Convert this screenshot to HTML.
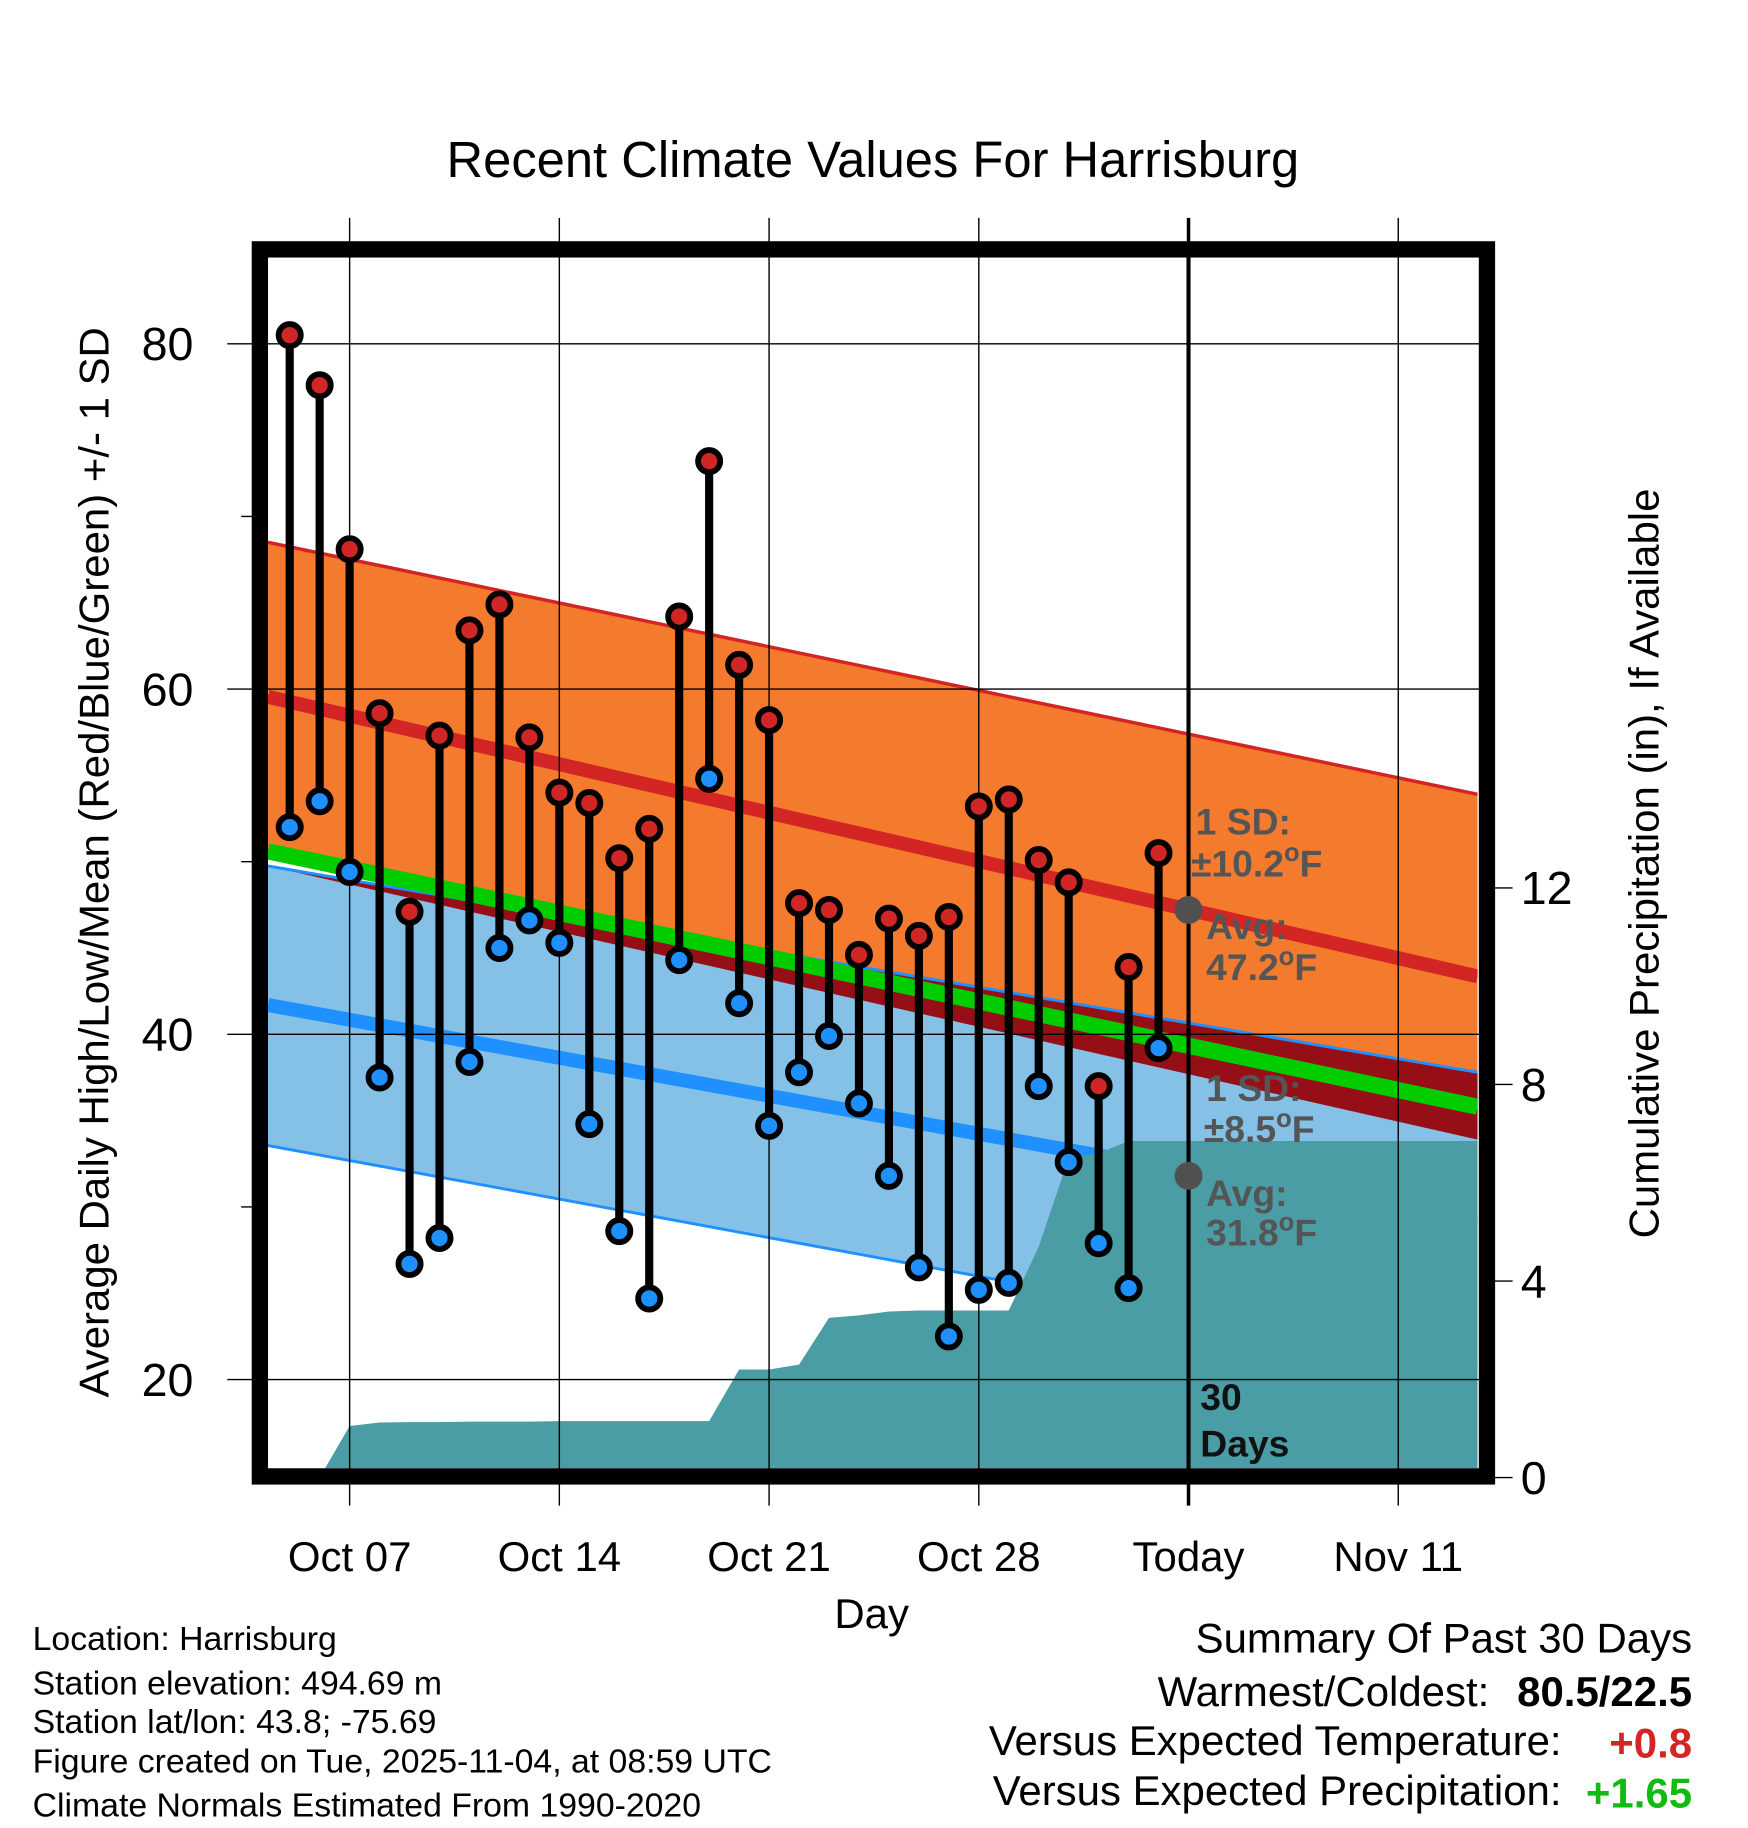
<!DOCTYPE html>
<html><head><meta charset="utf-8"><style>
html,body{margin:0;padding:0;background:#fff}
svg{display:block;font-family:"Liberation Sans",Arial,sans-serif}
</style></head><body>
<svg id="chart" width="1748" height="1828" viewBox="0 0 1500 1568.7" preserveAspectRatio="none" xmlns="http://www.w3.org/2000/svg">
</svg>
<script>
// ---- data ----
const dayLabels = ["Oct 07","Oct 14","Oct 21","Oct 28","Today","Nov 11"];
const dayLabelOffsets = [2,9,16,23,30,37]; // days since Oct 05
const highs = [80.5,77.6,68.1,58.6,47.1,57.3,63.4,64.9,57.2,54.0,53.4,50.2,51.9,64.2,73.2,61.4,58.2,47.6,47.2,44.6,46.7,45.7,46.8,53.2,53.6,50.1,48.8,37.0,43.9,50.5];
const lows  = [52.0,53.5,49.4,37.5,26.7,28.2,38.4,45.0,46.6,45.3,34.8,28.6,24.7,44.3,54.8,41.8,34.7,37.8,39.9,36.0,31.8,26.5,22.5,25.2,25.6,37.0,32.6,27.9,25.3,39.2];
const precip = [0,0,1.05,1.12,1.13,1.13,1.14,1.14,1.14,1.15,1.15,1.15,1.15,1.15,1.15,2.2,2.2,2.3,3.25,3.3,3.38,3.4,3.4,3.4,3.4,4.7,6.5,6.6,6.85,6.85];
const tempTicks = [20,40,60,80];
const minorTicks = [30,50,70];
const precipTicks = [0,4,8,12];
// normals at left edge and right edge of plot
const highUpper = [68.5,53.9];
const normHigh = [59.55,43.35];
const highLower = [49.75,33.9];
const normMean = [50.6,35.8];
const lowUpper = [49.75,37.8];
const normLow = [41.7,29.0];
const lowLower = [33.56,20.67];

// ---- axes ----
const X0=230,X1=1268,Y0=221,Y1=1260;
const dayX = d => 248.6 + d*25.71;
const tY = v => 295 + (80-v)*14.815;
const pY = p => 1268 - p*42.17;

const svg=document.getElementById('chart');
const NS="http://www.w3.org/2000/svg";
function el(tag,attrs,parent){const e=document.createElementNS(NS,tag);for(const k in attrs)e.setAttribute(k,attrs[k]);(parent||svg).appendChild(e);return e;}
function txt(s,attrs){const e=el('text',attrs);e.textContent=s;return e;}
const Y = pair => [tY(pair[0]),tY(pair[1])];

const clip=el('clipPath',{id:'pc'});el('rect',{x:X0,y:Y0,width:X1-X0,height:Y1-Y0},clip);
const g=el('g',{'clip-path':'url(#pc)'});

function band(top,bot,fill,name){
  const p=el('polygon',{points:`${X0},${top[0]} ${X1},${top[1]} ${X1},${bot[1]} ${X0},${bot[0]}`,fill:fill},g);
  
  
}
function ln(ys,color,w,name){
  const l=el('line',{x1:X0,y1:ys[0],x2:X1,y2:ys[1],stroke:color,'stroke-width':w},g);
  
  
}
band(Y(lowUpper),Y(lowLower),'#85c1e6','low-sd-band');
band(Y(highUpper),Y(normMean),'#f47a2e','high-sd-band');
band(Y(lowUpper),Y(highLower),'#960e16','band-overlap');
ln(Y(highUpper),'#d42525',3,'high-sd-upper-edge');
ln(Y(lowUpper),'#1e90ff',2.5,'low-sd-upper-edge');
ln(Y(lowLower),'#1e90ff',2.5,'low-sd-lower-edge');
ln(Y(normMean),'#00cc00',14,'normal-mean-line');
ln(Y(normHigh),'#d42525',12,'normal-high-line');
ln(Y(normLow),'#1e90ff',12,'normal-low-line');

// precip area
let pts=`${dayX(0)},${pY(0)} `;
precip.forEach((p,i)=>{pts+=`${dayX(i)},${pY(p)} `;});
pts+=`${X1},${pY(precip[precip.length-1])} ${X1},${Y1+10} ${dayX(0)},${Y1+10}`;
const pa=el('polygon',{points:pts,fill:'#4a9ca5'},g);



// grid
dayLabelOffsets.forEach((d,i)=>{
  const x=dayX(d);
  const l=el('line',{x1:x,y1:187,x2:x,y2:1292,stroke:'#000','stroke-width':i==4?3:1.2});
  
  
  const t=txt(dayLabels[i],{x:x,y:1348,'font-size':36,'text-anchor':'middle'});
  
  
});
tempTicks.forEach(v=>{
  const l=el('line',{x1:195,y1:tY(v),x2:1276,y2:tY(v),stroke:'#000','stroke-width':1.2});
  
  
  const t=txt(String(v),{x:166,y:tY(v)+14,'font-size':40,'text-anchor':'end'});
  
  
});
minorTicks.forEach(v=>{
  const l=el('line',{x1:207,y1:tY(v),x2:223,y2:tY(v),stroke:'#000','stroke-width':1.2});
  
  
});
precipTicks.forEach(p=>{
  const l=el('line',{x1:1276,y1:pY(p),x2:1298,y2:pY(p),stroke:'#000','stroke-width':1.2});
  
  
  const t=txt(String(p),{x:1305,y:pY(p)+14,'font-size':40,'text-anchor':'start'});
  
  
});

// today line
const tl=el('line',{x1:dayX(30),y1:Y0,x2:dayX(30),y2:Y1,stroke:'#000','stroke-width':3.5});



// stems and points
highs.forEach((h,i)=>{
  const x=dayX(i);
  const s=el('line',{x1:x,y1:tY(h),x2:x,y2:tY(lows[i]),stroke:'#000','stroke-width':7});
  
  
});
highs.forEach((h,i)=>{
  const x=dayX(i);
  const c1=el('circle',{cx:x,cy:tY(h),r:9.5,fill:'#d02626',stroke:'#000','stroke-width':5});
  
  
  const c2=el('circle',{cx:x,cy:tY(lows[i]),r:9.5,fill:'#1e90ff',stroke:'#000','stroke-width':5});
  
  
});

// annotation
const tx=dayX(30);
[tY(47.2),tY(31.8)].forEach((yy,i)=>{
  const c=el('circle',{cx:tx,cy:yy,r:12,fill:'#505050'});
  
  
});
function ann(main,x,y,fill,name,deg){
  const t=el('text',{x:x,y:y,'font-size':32,'font-weight':'bold',fill:fill});
  
  
  const a=el('tspan',{},t); a.textContent=main;
  if(deg){
    const o=el('tspan',{dy:-13,'font-size':22},t); o.textContent='o';
    const f=el('tspan',{dy:13,'font-size':32},t); f.textContent='F';
  }
}
ann("1 SD:",1026,716,'#555','sd-annotation');
ann("±10.2",1022,752,'#555','sd-annotation',true);
ann("Avg:",1035,806,'#555','avg-annotation');
ann("47.2",1035,841,'#555','avg-annotation',true);
ann("1 SD:",1035,945,'#555','sd-annotation');
ann("±8.5",1033,980,'#555','sd-annotation',true);
ann("Avg:",1035,1035,'#555','avg-annotation');
ann("31.8",1035,1069,'#555','avg-annotation',true);
ann("30",1030,1210,'#111','days-annotation');
ann("Days",1030,1250,'#111','days-annotation');

// frame
const fr=el('rect',{x:223,y:214,width:1053,height:1053,fill:'none',stroke:'#000','stroke-width':14});



// titles
function T(s,a,name){const t=txt(s,a);return t;}
T("Recent Climate Values For Harrisburg",{x:749,y:152,'font-size':43.5,'text-anchor':'middle'},'chart-title');
T("Day",{x:748,y:1397,'font-size':36,'text-anchor':'middle'},'x-axis-title');
T("Average Daily High/Low/Mean (Red/Blue/Green) +/- 1 SD",{x:0,y:0,'font-size':36,'text-anchor':'middle',transform:'translate(93,740) rotate(-90)'},'y-axis-title');
T("Cumulative Precipitation (in), If Available",{x:0,y:0,'font-size':36,'text-anchor':'middle',transform:'translate(1423,741) rotate(-90)'},'y2-axis-title');
const info=[["Location: Harrisburg",1416],["Station elevation: 494.69 m",1454],["Station lat/lon: 43.8; -75.69",1487],["Figure created on Tue, 2025-11-04, at 08:59 UTC",1521],["Climate Normals Estimated From 1990-2020",1559]];
info.forEach(a=>T(a[0],{x:28,y:a[1],'font-size':29},'station-info'));
T("Summary Of Past 30 Days",{x:1452,y:1418,'font-size':36,'text-anchor':'end'},'summary-title');
T("Warmest/Coldest:",{x:1278,y:1464,'font-size':36,'text-anchor':'end'},'summary-label');
T("80.5/22.5",{x:1452,y:1464,'font-size':36,'font-weight':'bold','text-anchor':'end'},'warmest-coldest-value');
T("Versus Expected Temperature:",{x:1340,y:1506,'font-size':36,'text-anchor':'end'},'summary-label');
T("+0.8",{x:1452,y:1508,'font-size':36,'font-weight':'bold','text-anchor':'end',fill:'#d42525'},'temp-anomaly-value');
T("Versus Expected Precipitation:",{x:1340,y:1549,'font-size':36,'text-anchor':'end'},'summary-label');
T("+1.65",{x:1452,y:1551,'font-size':36,'font-weight':'bold','text-anchor':'end',fill:'#11bb11'},'precip-anomaly-value');
</script>
</body></html>
